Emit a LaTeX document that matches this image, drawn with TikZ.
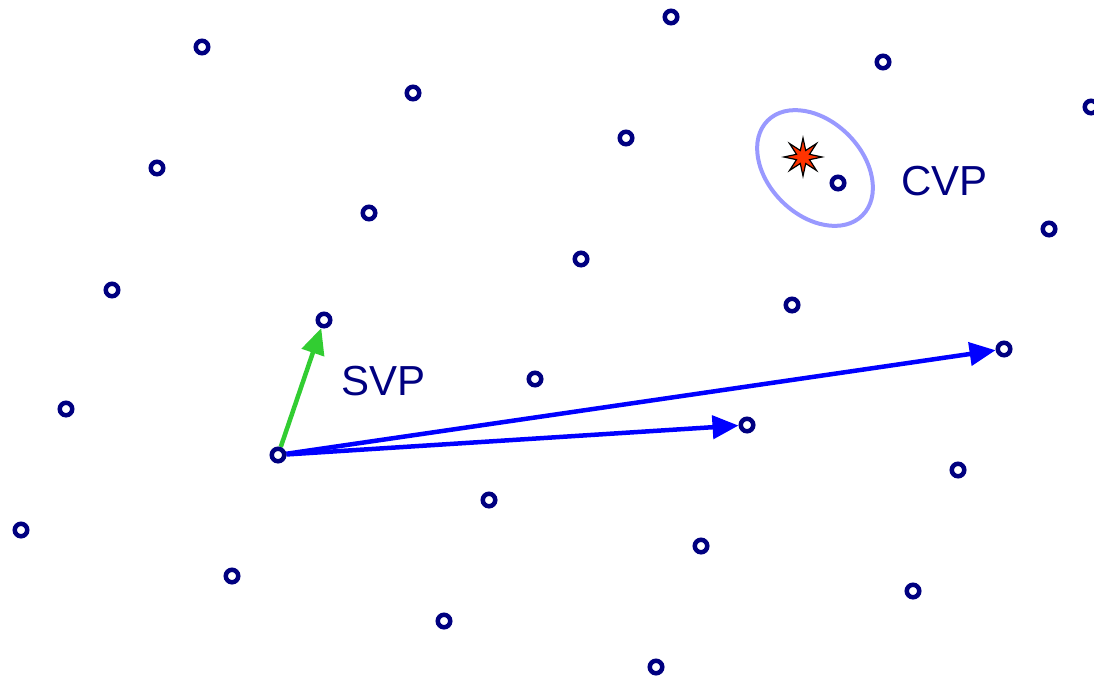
\documentclass[tikz,border=0pt]{standalone}
\usepackage{fontspec}
\setmainfont{Liberation Sans}
\usetikzlibrary{arrows.meta,shapes.geometric,backgrounds}
\definecolor{ptnavy}{RGB}{0,0,128}
\definecolor{vecblue}{RGB}{0,0,255}
\definecolor{vecgreen}{RGB}{50,205,50}
\definecolor{regcol}{RGB}{153,153,255}
\definecolor{starfill}{RGB}{255,51,0}
\tikzset{
  lpt/.style={circle, draw=ptnavy, line width=4.5pt, fill=white, minimum size=12.5pt, inner sep=0pt},
  vecarrow/.style={line width=4.5pt, -{Triangle[length=26pt,width=23pt]}},
  lbl/.style={text=ptnavy, font=\fontsize{42}{48}\selectfont, inner sep=0pt, anchor=base west},
}
\begin{document}
\begin{tikzpicture}[x=1pt,y=-1pt]
\useasboundingbox (0,0) rectangle (1094,680);
% lattice points
\node[lpt] (p1) at (202,47) {};
\node[lpt] (p2) at (413,93) {};
\node[lpt] (p3) at (626,138) {};
\node[lpt] (p4) at (838,183) {};
\node[lpt] (p5) at (1049,229) {};
\node[lpt] (p6) at (157,168) {};
\node[lpt] (p7) at (369,213) {};
\node[lpt] (p8) at (581,259) {};
\node[lpt] (p9) at (792,305) {};
\node[lpt] (p10) at (1004,349) {};
\node[lpt] (p11) at (112,290) {};
\node[lpt] (p12) at (324,320) {};
\node[lpt] (p13) at (535,379) {};
\node[lpt] (p14) at (747,425) {};
\node[lpt] (p15) at (958,470) {};
\node[lpt] (p16) at (66,409) {};
\node[lpt] (o) at (278,455) {};
\node[lpt] (p18) at (489,500) {};
\node[lpt] (p19) at (701,546) {};
\node[lpt] (p20) at (913,591) {};
\node[lpt] (p21) at (21,530) {};
\node[lpt] (p22) at (232,576) {};
\node[lpt] (p23) at (444,621) {};
\node[lpt] (p24) at (656,667) {};
\node[lpt] (p25) at (671,17) {};
\node[lpt] (p26) at (883,62) {};
\node[lpt] (p27) at (1091,107) {};
% CVP region
\node[ellipse, draw=regcol, line width=4pt, minimum width=134pt, minimum height=94pt, inner sep=0pt, rotate=-45] (reg) at (815,168) {};
\node[star, star points=8, star point ratio=2.7, minimum size=38pt, inner sep=0pt, fill=starfill, draw=black, line width=1.2pt] (tgt) at (803,157) {};
% vectors
\begin{pgfonlayer}{background}
\draw[vecarrow, draw=vecblue, fill=vecblue] (o) -- (p14);
\draw[vecarrow, draw=vecblue, fill=vecblue] (o) -- (p10);
\draw[vecarrow, draw=vecgreen, fill=vecgreen] (o) -- (p12);
\end{pgfonlayer}
% labels
\node[lbl] (svp) at (341,395) {SVP};
\node[lbl] (cvp) at (901,195) {CVP};
\end{tikzpicture}
\end{document}
